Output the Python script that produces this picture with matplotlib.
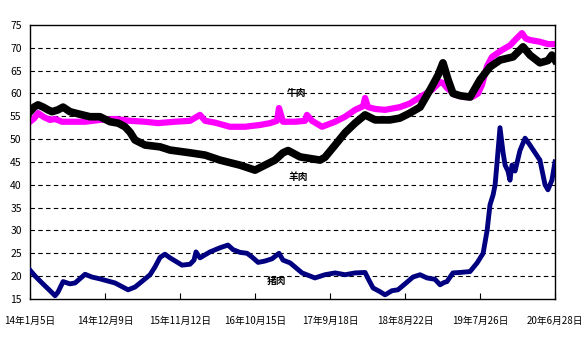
import matplotlib
matplotlib.use("Agg")
import matplotlib.pyplot as plt

plt.rcParams["font.family"] = ["Noto Sans CJK SC", "DejaVu Sans"]

# days since 14-01-05, values in yuan/kg
pork_days = [0, 23, 54, 90, 113, 126, 149, 180, 203, 248, 279, 315, 383, 442, 473, 496,
             541, 563, 586, 608, 631, 685, 721, 739, 748, 766, 811, 856, 892, 915, 946,
             978, 1000, 1028, 1059, 1091, 1122, 1140, 1172, 1226, 1284, 1329, 1375, 1420,
             1465, 1510, 1523, 1546, 1577, 1600, 1631, 1658, 1690, 1726, 1758, 1789, 1825,
             1848, 1866, 1879, 1906, 1938, 1983, 2015, 2042, 2060, 2073, 2087, 2096, 2105,
             2118, 2132, 2141, 2154, 2163, 2172, 2186, 2208, 2231, 2253, 2276, 2298, 2321,
             2334, 2352, 2366]
pork = [21.3, 20.0, 18.5, 16.8, 15.7, 16.5, 18.8, 18.3, 18.5, 20.4, 19.8, 19.4, 18.5, 17.0,
        17.6, 18.5, 20.3, 22.0, 24.1, 24.8, 24.0, 22.4, 22.6, 23.5, 25.3, 24.0, 25.3, 26.2,
        26.8, 25.8, 25.2, 25.0, 24.2, 23.0, 23.3, 23.8, 25.0, 23.5, 22.9, 20.7, 19.6, 20.3,
        20.7, 20.3, 20.7, 20.8, 19.5, 17.4, 16.6, 15.9, 16.8, 17.0, 18.3, 19.8, 20.3, 19.6,
        19.3, 18.1, 18.6, 18.8, 20.7, 20.8, 21.0, 22.9, 25.0, 30.0, 35.6, 37.8, 40.0, 45.0,
        52.5, 47.0, 44.3, 43.0, 41.0, 44.3, 43.0, 47.5, 50.2, 48.7, 47.0, 45.4, 40.0, 38.9,
        41.0, 45.0]

beef_days = [0, 18, 36, 63, 90, 113, 144, 180, 248, 315, 383, 451, 518, 577, 653, 721, 766,
             789, 834, 901, 969, 1037, 1082, 1113, 1122, 1140, 1194, 1239, 1248, 1271, 1316,
             1375, 1420, 1465, 1501, 1510, 1523, 1555, 1600, 1667, 1712, 1758, 1812, 1848,
             1861, 1879, 1915, 1960, 1992, 2019, 2037, 2060, 2082, 2127, 2163, 2186, 2217,
             2235, 2253, 2298, 2334, 2366]
beef = [53.8, 54.5, 55.7, 54.8, 54.2, 54.4, 53.8, 53.8, 53.8, 54.2, 54.4, 54.0, 53.8, 53.5,
        53.8, 54.0, 55.3, 54.0, 53.6, 52.7, 52.7, 53.1, 53.5, 54.0, 56.8, 53.8, 53.8, 54.0,
        55.3, 54.0, 52.7, 53.8, 54.9, 56.4, 57.2, 59.0, 57.0, 56.6, 56.4, 57.0, 57.8, 59.2,
        60.8, 62.5, 62.3, 61.2, 59.7, 59.2, 59.2, 60.0, 61.9, 66.0, 68.0, 69.5, 70.5, 71.7,
        73.2, 72.0, 71.7, 71.3, 70.8, 70.8]

mutton_days = [0, 18, 36, 59, 81, 99, 126, 149, 180, 203, 270, 315, 361, 397, 428, 451, 473,
               518, 586, 631, 721, 789, 856, 946, 1014, 1059, 1104, 1140, 1163, 1217, 1307,
               1329, 1375, 1420, 1465, 1510, 1555, 1622, 1667, 1712, 1758, 1803, 1839, 1861,
               1884, 1906, 1938, 1983, 2028, 2073, 2118, 2177, 2222, 2253, 2298, 2334, 2352,
               2366]
mutton = [56.0, 57.0, 57.5, 57.0, 56.4, 56.0, 56.4, 57.0, 56.0, 55.7, 54.9, 54.9, 53.8, 53.5,
          52.7, 51.5, 49.8, 48.7, 48.3, 47.6, 47.0, 46.5, 45.4, 44.3, 43.2, 44.3, 45.4, 47.0,
          47.5, 46.1, 45.4, 46.0, 48.7, 51.4, 53.5, 55.3, 54.2, 54.2, 54.6, 55.7, 57.0, 60.8,
          64.0, 66.7, 63.0, 60.0, 59.5, 59.2, 63.0, 65.8, 67.3, 68.0, 70.2, 68.4, 66.7, 67.2,
          68.4, 67.3]

tick_days = [0, 338, 676, 1014, 1352, 1690, 2028, 2366]
tick_labels = ["14年1月5日", "14年12月9日", "15年11月12日", "16年10月15日",
               "17年9月18日", "18年8月22日", "19年7月26日", "20年6月28日"]

fig = plt.figure(figsize=(5.83, 3.46), dpi=100)
ax = fig.add_axes([0.0515, 0.136, 0.9005, 0.792])

for v in range(20, 75, 5):
    ax.axhline(v, color="black", lw=0.8, ls=(0, (4, 3)), zorder=1)

ax.plot(beef_days, beef, color="#FF00FF", lw=4.5, solid_joinstyle="round", zorder=2)
ax.plot(mutton_days, mutton, color="black", lw=5.5, solid_joinstyle="round", zorder=3)
ax.plot(pork_days, pork, color="#000080", lw=3.5, solid_joinstyle="round", zorder=4)

ax.text(1203, 60.1, "牛肉", fontsize=7, fontweight="bold", ha="center", va="center")
ax.text(1208, 41.7, "羊肉", fontsize=7, fontweight="bold", ha="center", va="center")
ax.text(1110, 19.0, "猪肉", fontsize=7, fontweight="bold", ha="center", va="center")

ax.set_xlim(0, 2366)
ax.set_ylim(15, 75)
ax.set_yticks(range(15, 80, 5))
ax.set_xticks(tick_days)
ax.set_xticklabels(tick_labels)
ax.tick_params(axis="x", direction="in", length=4, pad=12, labelsize=7)
ax.tick_params(axis="y", length=0, pad=6, labelsize=7.5)
for s in ax.spines.values():
    s.set_linewidth(1.0)

fig.savefig("out.png", dpi=100, facecolor="white")
